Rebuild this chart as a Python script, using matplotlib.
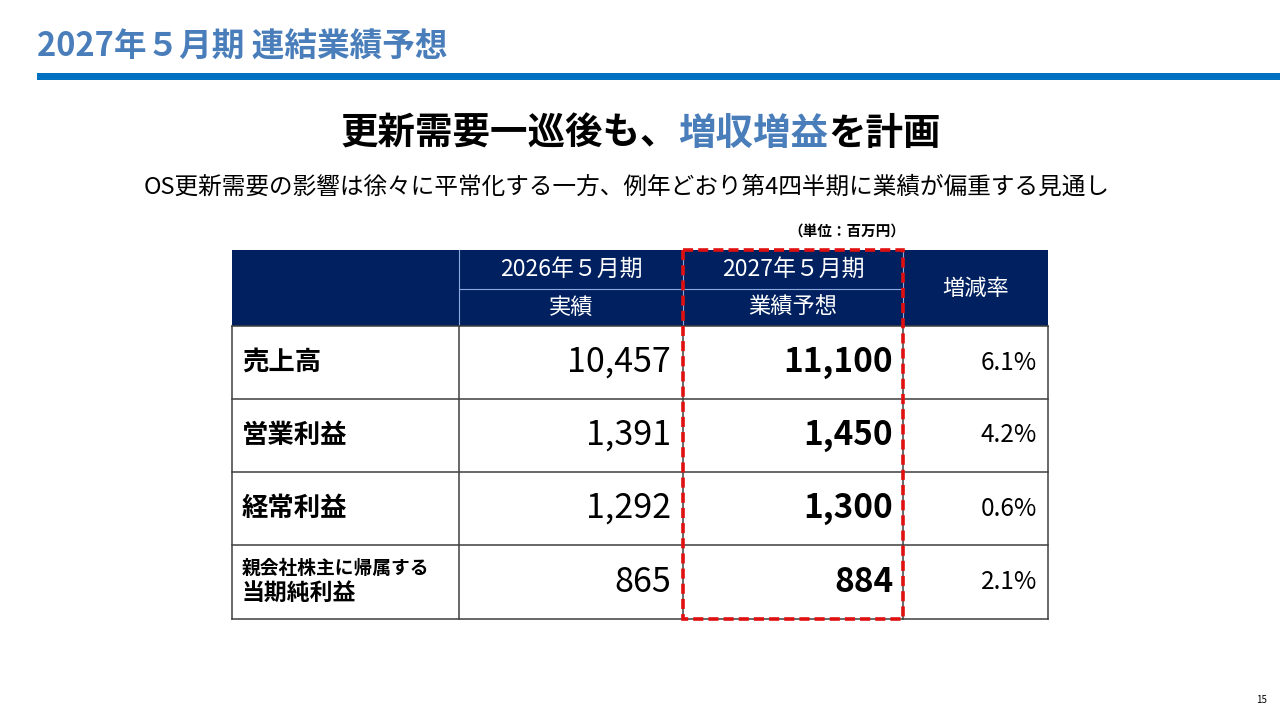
import matplotlib
matplotlib.use('Agg')
import matplotlib.pyplot as plt
from matplotlib.patches import Rectangle

plt.rcParams['font.family'] = ['Noto Sans CJK JP', 'DejaVu Sans']

# データ（単位：百万円）
row_labels = ['売上高', '営業利益', '経常利益', '当期純利益']
row_prefix = ['', '', '', '親会社株主に帰属する']
actual_2026 = [10457, 1391, 1292, 865]
forecast_2027 = [11100, 1450, 1300, 884]
change_rate = [6.1, 4.2, 0.6, 2.1]
header_top = ['', '2026年５月期', '2027年５月期', '増減率']
header_sub = ['', '実績', '業績予想', '']

NAVY = '#002060'
BLUE = '#4A7EBB'
RULE = '#0070C0'
RED = '#E01010'
GRID = '#3F3F3F'

fig = plt.figure(figsize=(12.8, 7.2), dpi=100)
ax = fig.add_axes([0, 0, 1, 1])
ax.set_xlim(0, 1280)
ax.set_ylim(720, 0)
ax.axis('off')

# タイトルと罫線
ax.text(37, 47, '2027年５月期 連結業績予想', color=BLUE, fontsize=23.5,
        fontweight='bold', va='center', ha='left')
ax.add_patch(Rectangle((37, 73), 1243, 7, color=RULE, lw=0))

# 見出し（一部だけ青）
parts = [('更新需要一巡後も、', 'black'), ('増収増益', BLUE), ('を計画', 'black')]
renderer = fig.canvas.get_renderer()
objs = []
for s, c in parts:
    t = ax.text(0, 133, s, color=c, fontsize=27, fontweight='bold',
                va='center', ha='left')
    objs.append(t)
widths = [t.get_window_extent(renderer).width for t in objs]
x = 641 - sum(widths) / 2
for t, w in zip(objs, widths):
    t.set_x(x)
    x += w

ax.text(627, 187, 'OS更新需要の影響は徐々に平常化する一方、例年どおり第4四半期に業績が偏重する見通し',
        fontsize=17, ha='center', va='center', color='black')

ax.text(905, 232, '（単位：百万円）', fontsize=10.5, fontweight='bold',
        ha='right', va='center')

# 表
col_x = [232, 459, 683, 903, 1048]
head_y0, head_mid, head_y1 = 250, 289, 326
row_y = [326, 399, 472, 545, 619]

ax.add_patch(Rectangle((col_x[0], head_y0), col_x[-1] - col_x[0],
                       head_y1 - head_y0, color=NAVY, lw=0))
for cx in col_x[1:4]:
    ax.plot([cx, cx], [head_y0, head_y1], color='#8EA9DB', lw=0.8)
ax.plot([col_x[1], col_x[3]], [head_mid, head_mid], color='#8EA9DB', lw=0.8)

for i in (1, 2):
    xc = (col_x[i] + col_x[i + 1]) / 2
    ax.text(xc, 269, header_top[i], color='white', fontsize=16.5,
            ha='center', va='center')
    ax.text(xc, 307, header_sub[i], color='white', fontsize=16,
            ha='center', va='center')
ax.text((col_x[3] + col_x[4]) / 2, 288, header_top[3], color='white',
        fontsize=16, ha='center', va='center')

# 本体の罫線
for y in row_y:
    ax.plot([col_x[0], col_x[-1]], [y, y], color=GRID, lw=1.1)
for cx in col_x:
    ax.plot([cx, cx], [row_y[0], row_y[-1]], color=GRID, lw=1.1)

for i in range(len(row_labels)):
    yc = (row_y[i] + row_y[i + 1]) / 2
    if row_prefix[i]:
        ax.text(242, yc - 14, row_prefix[i], fontsize=13.5, fontweight='bold',
                ha='left', va='center')
        ax.text(242, yc + 11, row_labels[i], fontsize=16.5, fontweight='bold',
                ha='left', va='center')
    else:
        ax.text(242, yc, row_labels[i], fontsize=19, fontweight='bold',
                ha='left', va='center')
    ax.text(671, yc, f'{actual_2026[i]:,}', fontsize=24.5, ha='right', va='center')
    ax.text(893, yc, f'{forecast_2027[i]:,}', fontsize=24, fontweight='bold',
            ha='right', va='center')
    ax.text(1037, yc, f'{change_rate[i]:.1f}%', fontsize=17.5, ha='right',
            va='center')

# 赤の点線枠
ax.add_patch(Rectangle((col_x[2], head_y0), col_x[3] - col_x[2],
                       row_y[-1] - head_y0, fill=False, edgecolor=RED,
                       lw=2.6, linestyle=(0, (2.8, 1.4)), zorder=5))

ax.text(1262, 700, '15', fontsize=7, ha='center', va='center')

fig.savefig('out.png', dpi=100)
